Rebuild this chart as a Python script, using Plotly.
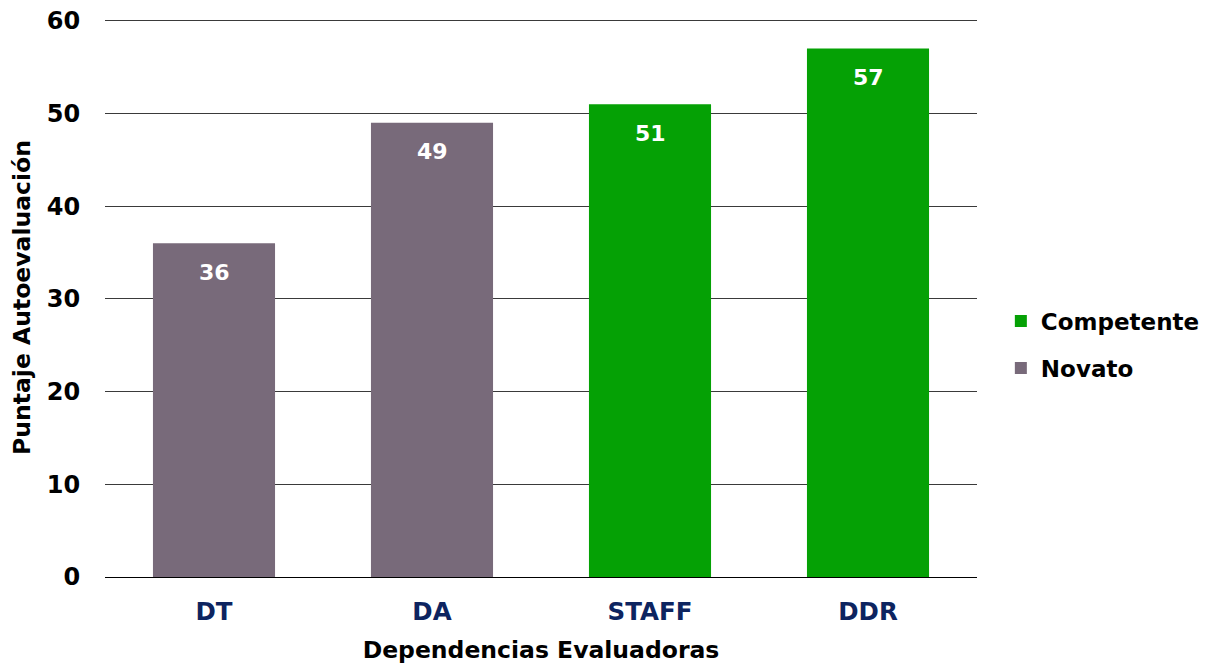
import plotly.graph_objects as go

categories = ['DT', 'DA', 'STAFF', 'DDR']
novato_cats = ['DT', 'DA']
novato_vals = [36, 49]
competente_cats = ['STAFF', 'DDR']
competente_vals = [51, 57]
y_ticks = [0, 10, 20, 30, 40, 50, 60]

FONT = 'DejaVu Sans'

fig = go.Figure()

fig.add_trace(go.Bar(
    x=competente_cats, y=competente_vals,
    name='<b>Competente</b>', legendgroup='c',
    marker=dict(color='#05A105', line=dict(width=0)),
    textposition='none'
))

fig.add_trace(go.Bar(
    x=novato_cats, y=novato_vals,
    name='<b>Novato</b>', legendgroup='n',
    marker=dict(color='#786A7A', line=dict(width=0)),
    textposition='none'
))

# etiquetas de valor dentro de la barra, cerca del borde superior
for cat, val in zip(novato_cats + competente_cats, novato_vals + competente_vals):
    fig.add_annotation(
        x=cat, y=val, text=f'<b>{val}</b>',
        showarrow=False, yanchor='middle', yshift=-29,
        font=dict(family=FONT, size=22, color='white')
    )

# la página tiene 8px de margen en body: se compensa aquí
fig.update_layout(
    width=1202, height=656,
    margin=dict(l=97, r=233, t=10, b=87),
    barmode='overlay',
    bargap=0.44,
    plot_bgcolor='white',
    paper_bgcolor='white',
    font=dict(family=FONT, color='black'),
    showlegend=True,
    legend=dict(
        xref='container', yref='container',
        x=0.826, y=0.487, xanchor='left', yanchor='middle',
        font=dict(family=FONT, size=23, color='black'),
        itemwidth=30, traceorder='grouped', tracegroupgap=14
    ),
)

fig.update_xaxes(
    categoryorder='array', categoryarray=categories,
    tickfont=dict(family=FONT, size=24.5, color='#0D2460'),
    tickvals=categories, ticktext=[f'<b>{c}</b>' for c in categories],
    title=dict(text='<b>Dependencias Evaluadoras</b>',
               font=dict(family=FONT, size=23.5, color='black'), standoff=17),
    showline=True, linecolor='black', linewidth=1,
    ticks='outside', ticklen=13, tickcolor='rgba(0,0,0,0)',
    showgrid=False, automargin=False
)

fig.update_yaxes(
    range=[0, 60.3],
    tickvals=y_ticks, ticktext=[f'<b>{t}</b>' for t in y_ticks],
    tickfont=dict(family=FONT, size=24, color='black'),
    ticklabeloverflow='allow',
    title=dict(text='<b>Puntaje Autoevaluación</b>',
               font=dict(family=FONT, size=23.5, color='black'), standoff=12),
    showgrid=True, gridcolor='#3a3a3a', gridwidth=1,
    zeroline=False,
    ticks='outside', ticklen=19, tickcolor='rgba(0,0,0,0)',
    automargin=False
)

fig.write_html('out.html')
